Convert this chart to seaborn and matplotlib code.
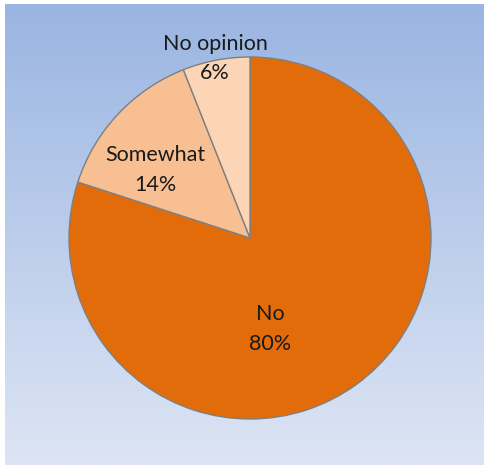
import numpy as np
import matplotlib
matplotlib.use("Agg")
import matplotlib.pyplot as plt
import seaborn as sns
from matplotlib.colors import LinearSegmentedColormap

# Survey answers, clockwise from 12 o'clock
categories = ["No", "Somewhat", "No opinion"]
shares = [80, 14, 6]
slice_colors = ["#E36C0A", "#F8C092", "#FBD5B6"]

# Label anchor points (pie units, centre at 0,0)
label_pos = [(0.113, -0.503), (-0.525, 0.376), (-0.193, 0.992)]

sns.set_theme(style="white")
plt.rcParams["font.family"] = ["Lato", "DejaVu Sans"]

W, H = 485, 465
fig = plt.figure(figsize=(W / 100, H / 100), dpi=100, facecolor="white")

# Gradient backdrop of the chart area
bg = fig.add_axes([5 / W, 0, 479 / W, (H - 4) / H])
grad = np.linspace(0, 1, 256).reshape(-1, 1)
cmap = LinearSegmentedColormap.from_list("bgfill", ["#9AB5E2", "#DDE5F4"])
bg.imshow(grad, aspect="auto", cmap=cmap, extent=[0, 1, 0, 1], origin="upper")
bg.set_axis_off()

# Pie axes: radius 181 px, centre at (250, 238) px from top-left
R = 181
cx, cy = 250, 238
half = R * 1.25
ax = fig.add_axes([(cx - half) / W, (H - cy - half) / H, 2 * half / W, 2 * half / H])
ax.set_facecolor("none")
ax.pie(shares, colors=slice_colors, startangle=90, counterclock=False,
       radius=1, wedgeprops=dict(edgecolor="#7F7F7F", linewidth=1.0))
ax.set_xlim(-1.25, 1.25)
ax.set_ylim(-1.25, 1.25)
ax.set_aspect("equal")

for name, val, (x, y) in zip(categories, shares, label_pos):
    ax.text(x, y, f"{name}\n{val}%", ha="center", va="center",
            fontsize=15.5, color="#1a1a1a", linespacing=1.6)

fig.savefig("out.png", dpi=100, facecolor="white")
